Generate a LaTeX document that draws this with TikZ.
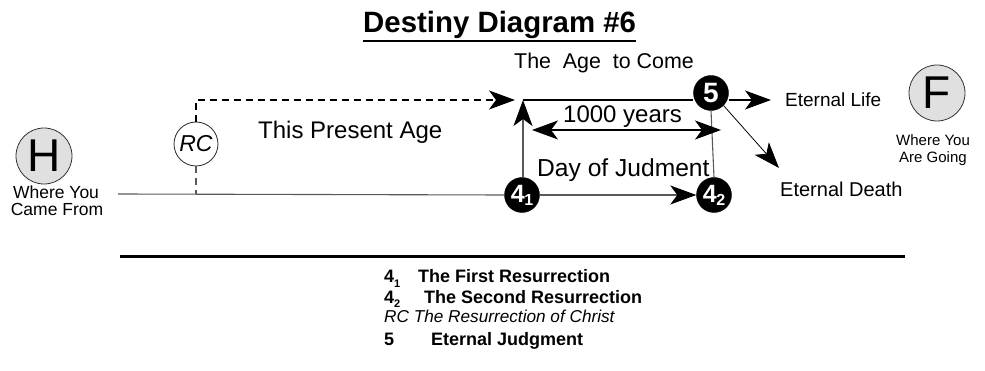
\documentclass[tikz,border=0pt]{standalone}
\usepackage{fontspec}
\setmainfont{Liberation Sans}
\usetikzlibrary{arrows.meta}
\begin{document}
\begin{tikzpicture}[x=1pt,y=-1pt,
  line/.style={draw=black!65, line width=1.1pt},
  bigtip/.tip={Stealth[length=26pt,width=19pt,inset=7pt,color=black]},
  tip/.style={-bigtip},
  bigcirc/.style={circle, draw=black!80, line width=0.8pt, fill=black!12, minimum size=56pt, inner sep=0pt, font=\fontsize{46}{46}\selectfont},
  blackdot/.style={circle, fill=black, draw=black, minimum size=35pt, inner sep=0pt, text=white, font=\fontsize{25}{25}\selectfont\bfseries},
  lab/.style={font=\fontsize{24}{26}\selectfont, inner sep=0pt, anchor=base west},
  legend/.style={font=\fontsize{18}{20}\selectfont\bfseries, anchor=base west, inner sep=0pt}
]
\useasboundingbox (0,0) rectangle (985,371);
% title
\node[font=\fontsize{29.4}{32}\selectfont\bfseries, inner sep=0pt, anchor=base west] (title) at (363,33) {Destiny Diagram \#6};
\draw[line width=2.6pt] ([yshift=-8pt]title.base west) -- ([yshift=-8pt]title.base east);
\node[lab, font=\fontsize{21.4}{24}\selectfont] (agecome) at (514,69) {The\ \ Age\ \ to Come};
% H
\node[bigcirc] (H) at (44,156) {H};
\node[font=\fontsize{17.5}{18}\selectfont, inner sep=0pt, anchor=base] (hlab1) at (56,199) {Where You};
\node[font=\fontsize{17.5}{18}\selectfont, inner sep=0pt, anchor=base] (hlab2) at (57,216) {Came From};
% RC
\node[circle, draw=black!85, line width=0.8pt, minimum size=44pt, inner sep=0pt, font=\fontsize{23}{23}\selectfont\itshape] (RC) at (196,144) {RC};
\node[lab] (present) at (258,139) {This Present Age};
% black nodes
\node[blackdot] (n41) at (522,195) {4\hspace{-0.5pt}\raisebox{-3pt}{\fontsize{16}{16}\selectfont 1}};
\node[blackdot] (n42) at (714,195) {4\hspace{-0.5pt}\raisebox{-3pt}{\fontsize{16}{16}\selectfont 2}};
\node[blackdot, font=\fontsize{28}{28}\selectfont\bfseries] (n5) at (711,93) {5};
% coordinates
\coordinate (start) at (118,194);
\coordinate (tl) at (523,100);
\coordinate (rcTop) at (196,100);
\coordinate (dashEnd) at (515,100);
\coordinate (lifeEnd) at (771,100);
\coordinate (deathEnd) at (779,168);
\coordinate (yrL) at (532,130);
\coordinate (yrR) at (721,130);
% main line
\draw[line] (start) -- (n41.west);
\draw[line, tip] (n41.east) -- (n42.west);
\draw[line, tip] (n41.north -| tl) -- (tl);
\draw[line, black] (tl) -- (tl -| n5.west);
\draw[line, black, tip] (n5.east |- lifeEnd) -- (lifeEnd);
\draw[line] (n5.south) -- (n42.north);
\draw[black, line width=0.8pt, tip] (n5.south east) -- (deathEnd);
% RC dashed
\draw[line, dash pattern=on 7pt off 5pt] (RC.south) -- (RC.south |- start);
\draw[line, black, dash pattern=on 7pt off 5pt, tip] (RC.north) -- (rcTop) -- (dashEnd);
% 1000 years
\draw[line, black, bigtip-bigtip] (yrL) -- (yrR);
\node[lab] (years) at (563,123) {1000 years};
\node[lab, font=\fontsize{24.6}{26}\selectfont] (judg) at (537,177) {Day of Judment};
% right labels
\node[lab, font=\fontsize{19}{21}\selectfont] (life) at (785,107) {Eternal Life};
\node[bigcirc] (F) at (937,93) {F};
\node[font=\fontsize{15}{16}\selectfont, inner sep=0pt, anchor=base] (flab1) at (933,146) {Where You};
\node[font=\fontsize{15}{16}\selectfont, inner sep=0pt, anchor=base] (flab2) at (933,163) {Are Going};
\node[lab, font=\fontsize{20}{22}\selectfont] (death) at (780,197) {Eternal Death};
% separator
\draw[line width=3pt] (120,257) coordinate (sepL) -- (905,257) coordinate (sepR);
% legend
\node[legend] (k1) at (384,283) {4\raisebox{-5pt}{\fontsize{11}{11}\selectfont 1}};
\node[legend] (t1) at (418,283) {The First Resurrection};
\node[legend] (k2) at (384,303) {4\raisebox{-5pt}{\fontsize{11}{11}\selectfont 2}};
\node[legend] (t2) at (424,303) {The Second Resurrection};
\node[legend, font=\fontsize{17.2}{19}\selectfont\itshape] (l3) at (384,323) {RC The Resurrection of Christ};
\node[legend] (k4) at (384,345) {5};
\node[legend] (t4) at (431,345) {Eternal Judgment};
\end{tikzpicture}
\end{document}
